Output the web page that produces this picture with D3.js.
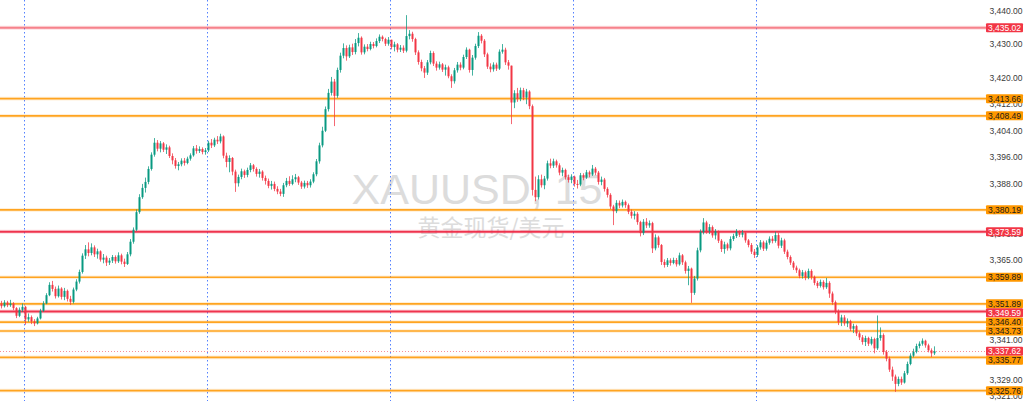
<!DOCTYPE html>
<html><head><meta charset="utf-8">
<script src="https://cdn.jsdelivr.net/npm/d3@7"></script>
<style>html,body{margin:0;padding:0;background:#fff;overflow:hidden}svg{display:block}</style>
</head><body><svg id="c" width="1024" height="401"></svg>
<script>
const firstOpen = 3352.0;
const closes = [
3351.2,3352.3,3351.5,3352.0,3350.6,3348.3,3350.1,3351.0,3347.2,3347.9,
3346.6,3346.0,3347.5,3349.8,3352.0,3354.5,3357.6,3356.4,3354.2,3356.5,
3354.0,3355.8,3353.4,3352.5,3356.2,3358.6,3361.5,3366.4,3368.3,3367.2,
3368.9,3366.8,3367.7,3365.2,3365.8,3364.3,3364.9,3366.0,3364.7,3366.5,
3364.6,3363.9,3366.8,3370.6,3374.2,3379.5,3384.0,3386.8,3388.6,3392.5,
3396.8,3400.4,3398.6,3400.2,3398.3,3399.0,3396.4,3395.1,3393.4,3393.9,
3395.0,3394.3,3395.6,3396.6,3398.7,3397.9,3398.5,3397.6,3398.1,3400.4,
3399.6,3401.3,3400.8,3402.3,3396.5,3394.6,3395.8,3391.7,3388.2,3390.1,
3391.8,3390.7,3392.2,3393.6,3392.5,3391.0,3391.7,3389.8,3388.9,3387.4,
3388.0,3386.5,3385.7,3385.0,3387.6,3388.9,3388.0,3389.4,3390.0,3388.4,
3387.2,3388.3,3387.6,3388.7,3390.9,3394.8,3399.6,3404.0,3410.5,3415.4,
3418.8,3414.5,3422.3,3426.6,3428.9,3426.4,3429.1,3427.7,3430.4,3432.0,
3427.6,3429.3,3428.6,3430.1,3429.5,3431.0,3432.3,3431.6,3430.2,3431.4,
3429.2,3430.0,3428.4,3429.0,3428.1,3432.5,3433.2,3431.6,3427.6,3424.7,
3422.8,3421.5,3424.6,3427.4,3424.2,3423.0,3424.0,3422.4,3423.1,3420.4,
3418.9,3422.2,3423.9,3423.0,3426.2,3428.4,3422.3,3426.0,3429.5,3432.6,
3431.1,3427.0,3423.3,3422.5,3423.9,3422.7,3427.8,3428.4,3424.6,3423.6,
3412.5,3415.3,3413.6,3416.2,3414.0,3415.8,3411.4,3386.2,3384.0,3389.4,
3387.6,3389.6,3394.2,3393.5,3394.8,3393.6,3391.4,3392.2,3390.0,3389.2,
3390.2,3388.0,3387.8,3390.6,3389.9,3391.5,3390.8,3392.6,3391.4,3388.6,
3389.3,3386.5,3384.7,3381.2,3379.8,3382.3,3381.5,3382.6,3381.6,3379.6,
3378.4,3379.0,3376.5,3373.2,3376.6,3375.5,3376.2,3368.6,3371.9,3369.6,
3364.5,3363.6,3365.0,3364.2,3365.1,3363.8,3366.5,3364.4,3361.8,3362.5,
3355.2,3359.5,3368.0,3373.5,3376.4,3373.8,3375.0,3372.5,3373.7,3370.9,
3368.4,3369.8,3368.6,3371.4,3372.3,3373.6,3372.7,3373.3,3371.0,3369.6,
3367.6,3366.6,3368.9,3370.4,3368.5,3370.3,3371.5,3370.8,3372.6,3369.4,
3371.0,3367.6,3366.0,3364.3,3362.8,3362.0,3360.3,3361.4,3359.8,3361.8,
3360.0,3358.2,3357.3,3358.5,3356.9,3358.2,3355.0,3352.4,3349.6,3346.4,
3347.8,3346.0,3346.7,3344.4,3345.2,3343.0,3341.8,3340.4,3341.6,3339.9,
3341.3,3338.5,3341.6,3342.5,3337.4,3335.4,3332.1,3330.0,3327.8,3329.3,
3328.2,3331.0,3333.8,3336.3,3337.5,3339.2,3339.9,3340.8,3339.4,3337.9,3337.0,3337.62];
const highs = [
3352.8,3353.0,3352.8,3353.1,3352.4,3350.9,3350.8,3352.0,3351.3,3349.0,
3348.4,3347.3,3348.0,3350.4,3352.7,3355.1,3358.4,3358.8,3357.1,3357.4,
3356.9,3356.7,3356.2,3354.3,3356.8,3359.3,3362.2,3367.1,3369.6,3370.4,
3370.1,3369.5,3368.5,3368.0,3366.9,3366.4,3365.7,3366.6,3366.5,3367.4,
3367.0,3365.5,3367.5,3371.4,3374.9,3380.3,3384.9,3388.0,3389.9,3393.3,
3397.5,3401.8,3401.2,3400.9,3400.6,3399.9,3399.5,3397.2,3395.8,3394.6,
3395.7,3395.8,3396.2,3397.2,3399.4,3399.7,3399.3,3399.0,3398.8,3401.0,
3401.5,3401.9,3402.4,3403.1,3402.6,3397.4,3396.6,3396.1,3392.3,3390.8,
3392.6,3392.3,3392.9,3394.3,3394.0,3393.0,3392.5,3392.1,3390.5,3389.6,
3388.9,3388.7,3387.3,3386.5,3388.3,3389.8,3390.3,3390.6,3391.0,3390.4,
3388.9,3389.0,3388.9,3389.4,3391.5,3395.5,3400.4,3405.2,3411.3,3416.6,
3420.2,3419.6,3423.0,3427.5,3430.3,3429.7,3429.9,3430.2,3431.6,3433.4,
3432.4,3430.0,3430.1,3430.8,3430.7,3431.8,3433.0,3432.7,3432.0,3432.2,
3431.0,3430.8,3430.4,3429.8,3429.7,3438.8,3434.3,3433.8,3432.0,3428.2,
3425.4,3423.5,3425.3,3428.1,3427.9,3424.9,3424.8,3424.4,3423.9,3423.6,
3421.0,3422.9,3424.7,3424.6,3426.9,3429.1,3428.7,3426.8,3430.2,3433.7,
3433.1,3431.6,3427.5,3424.3,3424.6,3424.5,3428.5,3430.1,3429.0,3425.3,
3420.6,3416.2,3416.9,3417.0,3416.9,3416.6,3416.2,3411.9,3390.2,3390.6,
3390.8,3390.4,3395.0,3395.6,3395.6,3395.3,3394.2,3392.9,3392.6,3390.8,
3390.9,3390.5,3389.2,3391.3,3391.2,3392.2,3392.0,3393.7,3393.1,3391.9,
3390.2,3389.8,3387.0,3385.2,3381.7,3383.1,3383.0,3383.3,3383.0,3382.1,
3380.3,3379.8,3379.5,3376.9,3377.4,3377.7,3377.0,3376.6,3372.8,3372.4,
3369.9,3365.3,3365.7,3365.6,3365.8,3365.7,3367.3,3366.9,3364.9,3363.3,
3362.8,3360.3,3368.8,3374.3,3377.7,3376.9,3375.9,3375.5,3374.4,3374.0,
3371.4,3370.6,3370.3,3372.2,3373.0,3374.4,3374.0,3374.1,3373.8,3371.4,
3370.2,3368.4,3369.6,3371.1,3370.9,3371.0,3372.2,3372.3,3373.6,3373.3,
3371.8,3371.5,3368.2,3366.5,3364.8,3363.4,3362.5,3362.1,3361.9,3362.5,
3362.3,3360.4,3358.8,3359.2,3359.0,3359.7,3358.7,3355.6,3352.9,3350.2,
3348.6,3348.5,3347.5,3347.1,3345.9,3345.6,3343.6,3342.5,3342.3,3342.0,
3342.0,3341.7,3348.4,3344.8,3343.0,3338.0,3336.0,3333.0,3330.6,3330.0,
3330.0,3331.7,3334.5,3337.0,3338.4,3339.9,3340.6,3341.5,3341.1,3339.9,3338.5,3339.1];
const lows = [
3350.5,3350.8,3350.9,3351.0,3350.0,3347.6,3347.9,3349.5,3345.6,3346.5,
3345.8,3345.2,3345.7,3347.2,3349.5,3351.8,3354.2,3355.6,3353.5,3353.8,
3353.2,3353.0,3352.6,3351.6,3352.0,3355.7,3358.0,3361.0,3365.4,3366.2,
3366.5,3366.0,3365.5,3364.6,3364.1,3363.3,3363.6,3364.2,3364.0,3364.2,
3363.8,3363.0,3363.6,3366.2,3370.0,3373.8,3379.0,3383.5,3385.4,3387.9,
3392.0,3396.2,3397.8,3397.5,3397.6,3397.0,3395.8,3393.9,3392.6,3392.1,
3393.3,3393.5,3393.9,3395.0,3396.2,3397.1,3397.3,3396.9,3396.8,3397.6,
3398.8,3399.1,3400.0,3400.2,3395.7,3393.0,3391.5,3390.6,3385.6,3387.2,
3389.4,3389.8,3390.0,3391.5,3391.7,3390.2,3389.9,3389.0,3387.8,3386.7,
3386.3,3385.8,3384.9,3384.3,3384.1,3387.0,3387.4,3387.6,3388.5,3387.7,
3386.5,3386.6,3386.8,3386.9,3388.2,3390.3,3394.1,3399.0,3403.6,3409.8,
3414.6,3405.4,3413.9,3421.5,3425.8,3425.1,3425.9,3426.8,3427.0,3429.4,
3426.9,3427.0,3427.9,3428.2,3428.8,3429.1,3430.4,3430.9,3429.5,3429.6,
3428.5,3427.9,3427.6,3427.7,3427.4,3427.6,3431.5,3430.8,3426.8,3423.9,
3421.9,3419.9,3420.8,3424.0,3423.5,3422.1,3422.4,3421.7,3420.6,3419.8,
3416.9,3418.2,3421.5,3422.2,3422.5,3425.6,3421.5,3420.6,3425.4,3428.9,
3430.3,3426.2,3422.6,3421.6,3421.8,3422.0,3422.3,3427.2,3423.8,3422.4,
3406.0,3410.8,3412.7,3412.9,3413.2,3412.0,3410.5,3384.5,3382.8,3383.3,
3386.9,3386.4,3389.0,3392.7,3392.8,3392.9,3390.6,3390.3,3389.3,3388.4,
3388.2,3387.2,3386.6,3387.3,3389.1,3389.5,3390.0,3390.4,3390.6,3387.8,
3387.6,3385.7,3383.9,3380.4,3375.6,3379.2,3380.7,3380.9,3380.8,3378.9,
3377.6,3377.3,3375.7,3372.2,3372.6,3374.7,3374.8,3367.2,3368.0,3368.8,
3363.6,3362.8,3363.0,3363.4,3363.8,3363.1,3363.4,3363.6,3361.0,3357.5,
3352.2,3354.6,3358.9,3367.4,3372.8,3373.0,3372.9,3371.8,3371.3,3370.2,
3367.5,3367.0,3367.9,3368.0,3370.8,3371.7,3372.0,3371.9,3370.3,3368.9,
3366.9,3365.7,3366.0,3368.2,3367.8,3367.9,3369.7,3370.1,3370.3,3368.6,
3368.7,3366.9,3365.3,3363.6,3362.1,3361.2,3359.6,3359.5,3359.0,3359.3,
3359.2,3357.5,3356.6,3356.8,3356.2,3356.4,3353.7,3351.6,3348.8,3345.5,
3345.2,3345.3,3344.9,3343.7,3343.1,3342.2,3341.0,3339.6,3339.2,3339.2,
3339.4,3337.0,3338.0,3340.8,3336.6,3334.6,3331.4,3328.7,3325.4,3327.1,
3327.5,3327.9,3330.5,3333.4,3335.8,3337.0,3338.5,3339.3,3338.7,3337.3,3335.9,3336.5];
const sessionStarts = [8, 69, 130, 191, 252];
const levelPrices = [3435.02, 3413.66, 3408.49, 3380.19, 3373.59, 3359.89, 3351.89, 3349.59, 3346.40, 3343.73, 3335.77, 3325.76];
const levelKinds  = ["resistance","zone","zone","zone","key","zone","zone","key","zone","zone","zone","zone"];
const lastPrice = 3337.62;
const tickValues = [3440, 3430, 3420, 3412, 3404, 3396, 3388, 3380, 3373, 3365, 3341, 3329, 3321];
const symbolText = "XAUUSD, 15";
const descText = "黄金现货/美元";

const W = 1024, H = 401, plotRight = 936;
const svg = d3.select("#c");
const x = d3.scaleLinear().domain([0, closes.length]).range([0, plotRight]);
const y = d3.scaleLinear().domain([3322.65, 3443.36]).range([H, 0]);
const bars = closes.map((c, i) => {
  const o = i === 0 ? firstOpen : closes[i - 1];
  return {i, o, c, h: Math.max(highs[i], o, c), l: Math.min(lows[i], o, c)};
});
const UP = "#089981", DOWN = "#f23645";
const fmt = d3.format(",.2f");

// watermark
svg.append("text").attr("x", 477).attr("y", 204).attr("text-anchor", "middle")
  .attr("font-family", "Liberation Sans, Arial, sans-serif").attr("font-size", 43)
  .attr("fill", "#dcdcdc").text(symbolText);
svg.append("text").attr("x", 491).attr("y", 236).attr("text-anchor", "middle")
  .attr("font-family", "Noto Sans CJK SC, sans-serif").attr("font-size", 23)
  .attr("fill", "#dcdcdc").text(descText);

// session breaks
svg.append("g").selectAll("line").data(sessionStarts).join("line")
  .attr("x1", d => Math.round(x(d)) + 0.5).attr("x2", d => Math.round(x(d)) + 0.5)
  .attr("y1", 0).attr("y2", H)
  .attr("stroke", "#2962ff").attr("stroke-width", 1).attr("stroke-dasharray", "1.5,2.5").attr("opacity", 0.8);

// level lines
const lineEnd = 986;
const styleOf = k => k === "resistance" ? {c: DOWN, w: 2, o: 0.55}
                 : k === "key" ? {c: "#ef2b47", w: 2, o: 0.95}
                 : {c: "#ff9800", w: 1.6, o: 0.85};
const lg = svg.append("g");
levelPrices.forEach((p, j) => {
  const s = styleOf(levelKinds[j]);
  lg.append("line").attr("x1", 0).attr("x2", lineEnd).attr("y1", y(p)).attr("y2", y(p))
    .attr("stroke", s.c).attr("stroke-width", s.w + 2).attr("opacity", 0.15);
  lg.append("line").attr("x1", 0).attr("x2", lineEnd).attr("y1", y(p)).attr("y2", y(p))
    .attr("stroke", s.c).attr("stroke-width", s.w).attr("opacity", s.o);
});
// last price line
svg.append("line").attr("x1", 0).attr("x2", lineEnd).attr("y1", Math.round(y(lastPrice)) + 0.5).attr("y2", Math.round(y(lastPrice)) + 0.5)
  .attr("stroke", DOWN).attr("stroke-width", 1).attr("stroke-dasharray", "1,2").attr("opacity", 0.55);

// candles
const cg = svg.append("g");
cg.selectAll("line").data(bars).join("line")
  .attr("x1", d => x(d.i + 0.5)).attr("x2", d => x(d.i + 0.5))
  .attr("y1", d => y(d.h)).attr("y2", d => y(d.l))
  .attr("stroke", d => d.c >= d.o ? UP : DOWN).attr("stroke-width", 1).attr("opacity", 0.75);
cg.selectAll("rect").data(bars).join("rect")
  .attr("x", d => x(d.i + 0.5) - 1).attr("width", 2)
  .attr("y", d => y(Math.max(d.o, d.c)))
  .attr("height", d => Math.max(1, Math.abs(y(d.o) - y(d.c))))
  .attr("fill", d => d.c >= d.o ? UP : DOWN);

// price axis ticks
svg.append("g").selectAll("text").data(tickValues).join("text")
  .attr("x", 1006).attr("y", d => Math.min(y(d), 396)).attr("dy", "0.35em")
  .attr("text-anchor", "middle").attr("font-family", "Liberation Sans, Arial, sans-serif")
  .attr("font-size", 8.5).attr("fill", "#3a3a3a").text(d => fmt(d));

// price labels with simple collision push-down
const labels = levelPrices.map((p, j) => ({p, bg: levelKinds[j] === "zone" ? "#ff9800" : DOWN,
  fg: levelKinds[j] === "zone" ? "#1a1a1a" : "#ffffff", yy: y(p)}));
labels.push({p: lastPrice, bg: DOWN, fg: "#ffffff", yy: y(lastPrice)});
labels.sort((a, b) => a.yy - b.yy);
const LH = 9;
for (let k = 1; k < labels.length; k++) {
  if (labels[k].yy - labels[k - 1].yy < LH) labels[k].yy = labels[k - 1].yy + LH;
}
const lab = svg.append("g").selectAll("g").data(labels).join("g");
lab.append("rect").attr("x", 986).attr("width", 37).attr("y", d => d.yy - LH / 2).attr("height", LH)
  .attr("rx", 1).attr("fill", d => d.bg);
lab.append("text").attr("x", 1004.5).attr("y", d => d.yy).attr("dy", "0.35em").attr("text-anchor", "middle")
  .attr("font-family", "Liberation Sans, Arial, sans-serif").attr("font-size", 8.5)
  .attr("fill", d => d.fg).text(d => fmt(d.p));
</script></body></html>
